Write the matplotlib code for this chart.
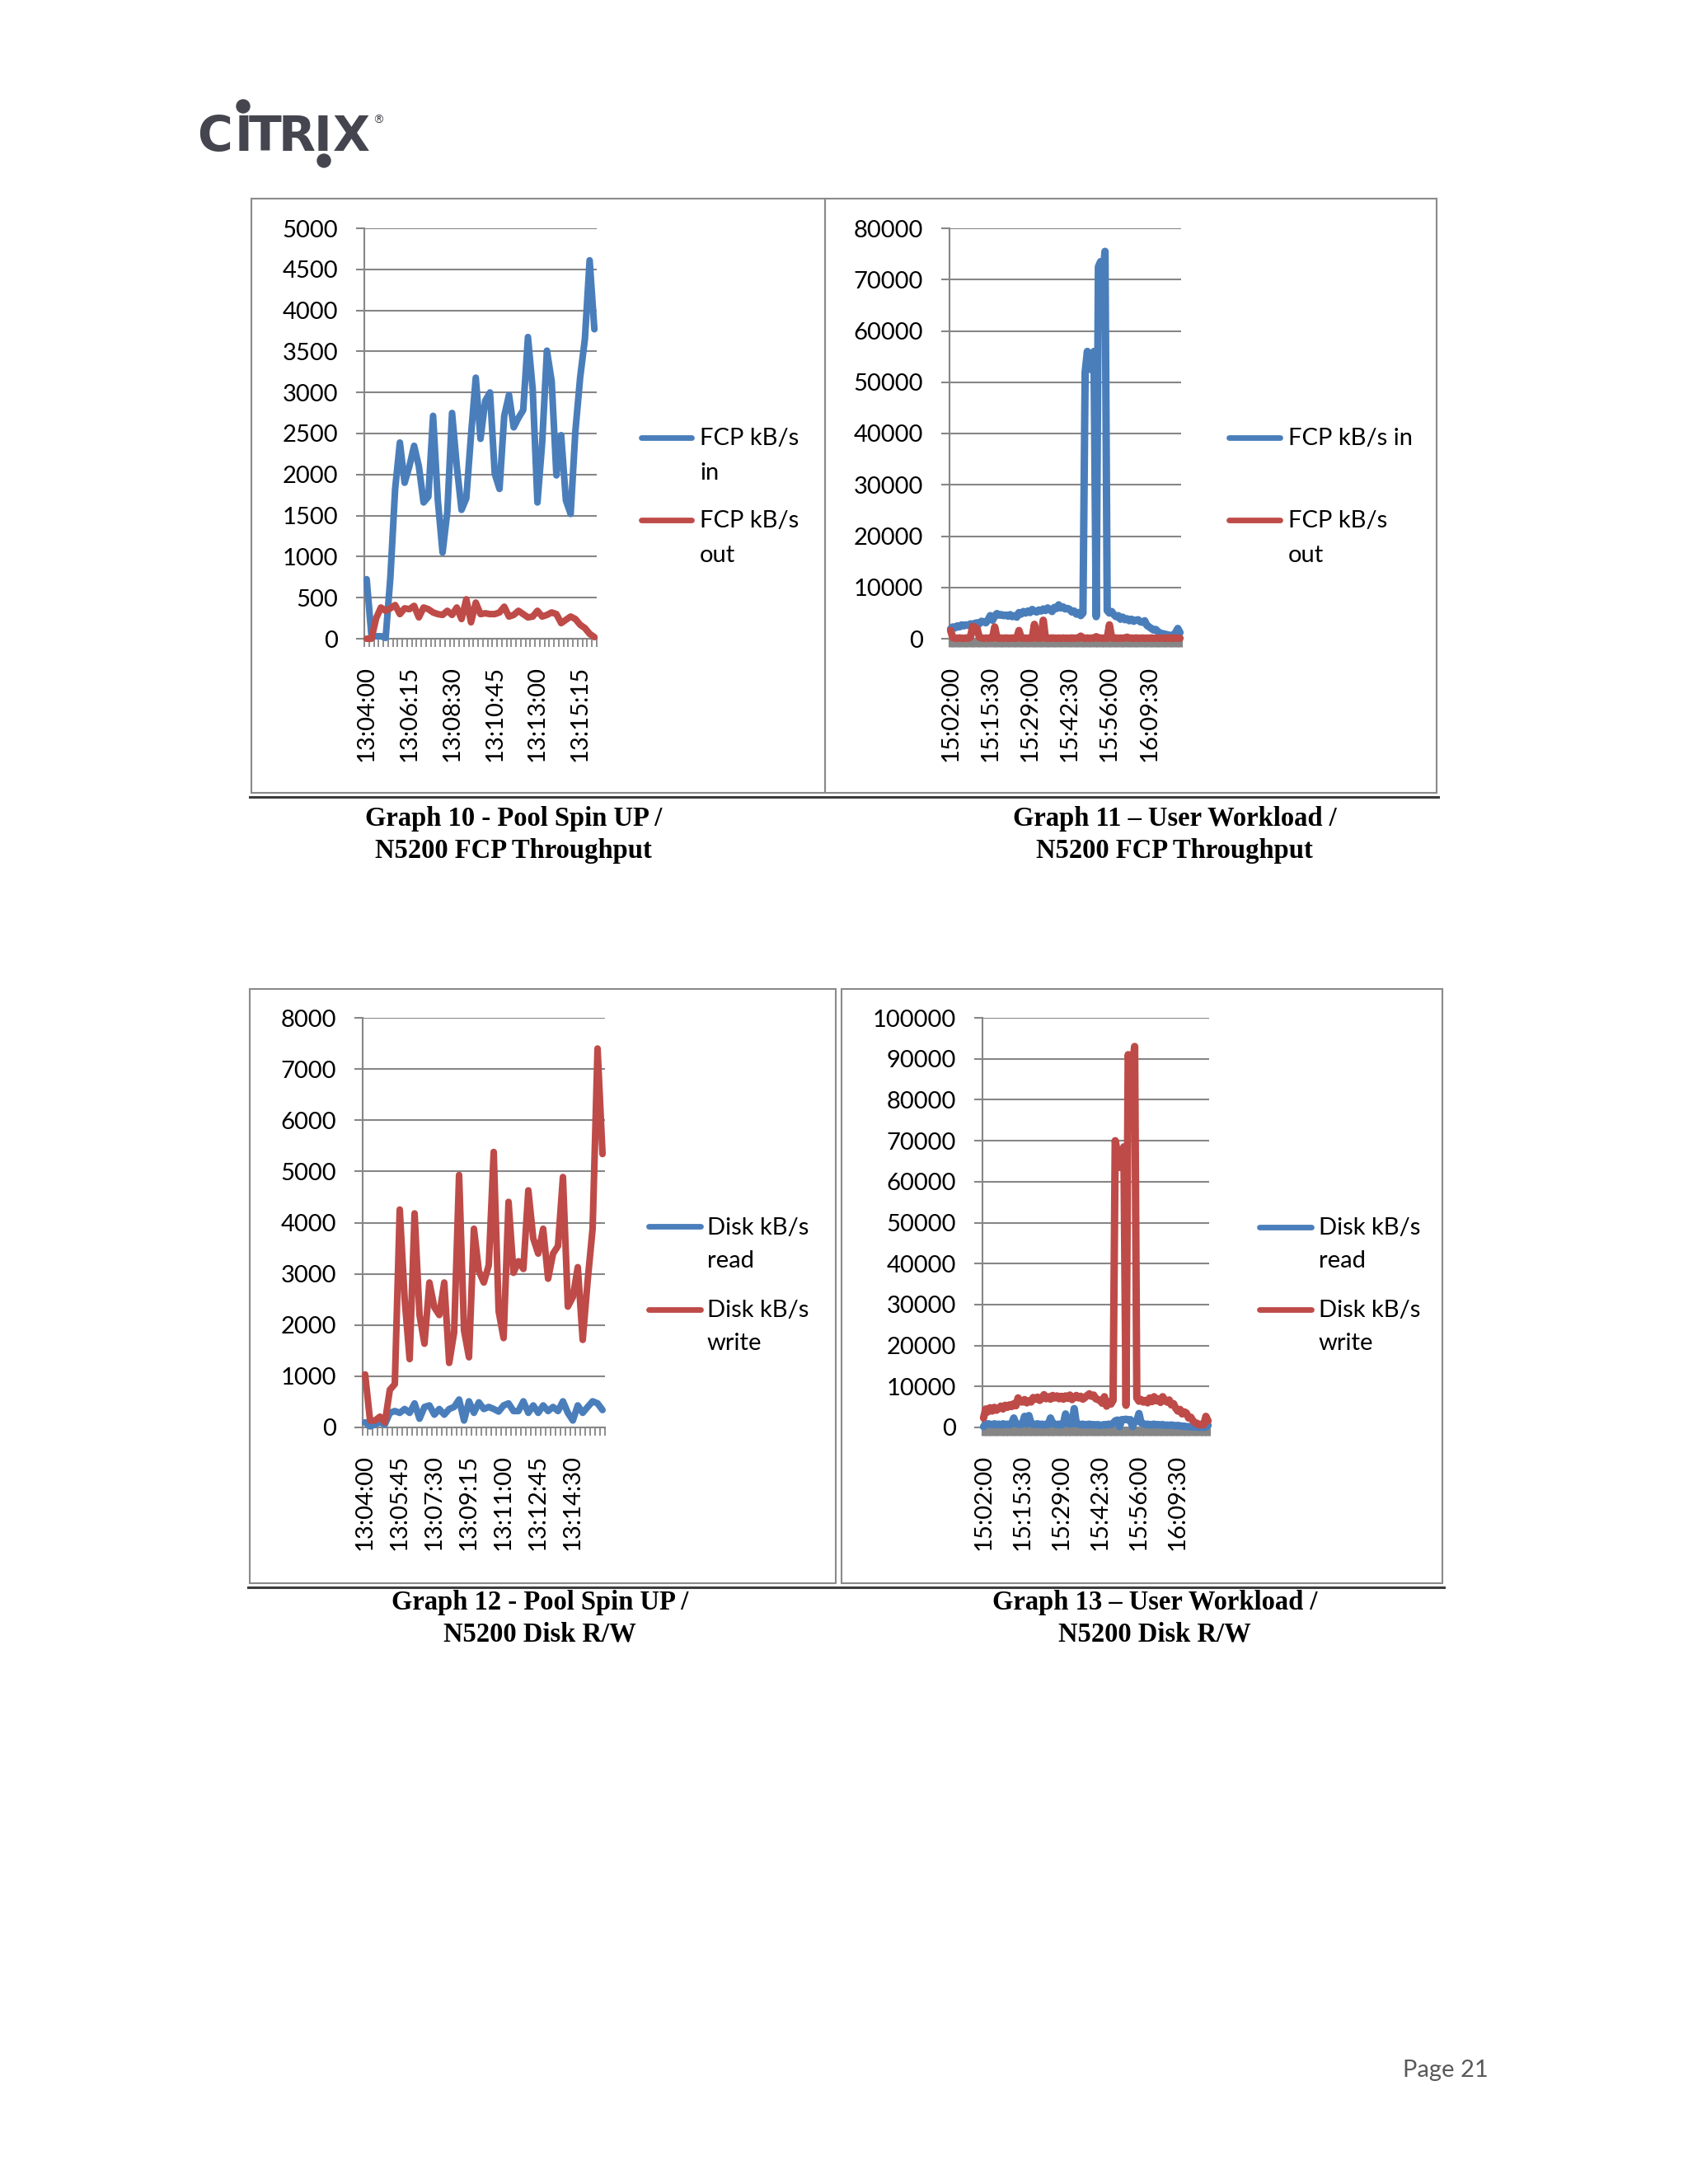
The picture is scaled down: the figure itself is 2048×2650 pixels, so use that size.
import matplotlib
matplotlib.use('Agg')
import matplotlib.pyplot as plt
from matplotlib.lines import Line2D
from matplotlib.patches import Rectangle, Ellipse
import numpy as np

plt.rcParams['font.family'] = ['Lato', 'DejaVu Sans']

W, H = 2048, 2650
BLUE = '#4a7ebb'
RED = '#be4b48'
GRID = '#868686'

######################## data ########################
# Graph 10 - Pool Spin UP / FCP throughput
g10_labels = ['13:04:00', '13:06:15', '13:08:30', '13:10:45', '13:13:00', '13:15:15']
g10_fcp_in = [725, 40, 30, 30, 10, 750, 1825, 2390, 1900, 2100,
              2350, 2100, 1660, 1730, 2715, 1685, 1050, 1545, 2750, 2100,
              1570, 1710, 2480, 3180, 2435, 2900, 3000, 2010, 1825, 2715,
              2970, 2575, 2690, 2785, 3675, 3040, 1660, 2390, 3510, 3135,
              1990, 2480, 1685, 1520, 2530, 3180, 3650, 4610, 3770]
g10_fcp_out = [0, 0, 250, 380, 340, 370, 410, 300, 370, 360,
               400, 260, 380, 360, 320, 300, 290, 340, 290, 380,
               240, 480, 200, 440, 300, 310, 300, 300, 320, 390,
               270, 290, 340, 300, 260, 270, 340, 270, 290, 320,
               300, 190, 230, 270, 240, 170, 130, 60, 20]

# Graph 11 - User Workload / FCP throughput
g11_labels = ['15:02:00', '15:15:30', '15:29:00', '15:42:30', '15:56:00', '16:09:30']
g11_fcp_in = [1900, 2300, 2100, 2500, 2300, 2700, 2500, 2700, 2600, 2900,
              2800, 3000, 3100, 2900, 3400, 3300, 3100, 3700, 4500, 3600,
              4400, 4900, 4600, 4700, 4500, 4600, 4400, 4700, 4300, 4500,
              4200, 5100, 4800, 5300, 5000, 5400, 5100, 5700, 5400, 5200,
              5600, 5400, 5800, 5500, 6000, 5700, 5300, 6100, 5900, 6600,
              6000, 6200, 5800, 5900, 5700, 5200, 5400, 4800, 5100, 4500,
              5000, 52000, 56000, 52500, 55000, 56000, 4300, 72500, 73500, 70500,
              75500, 5500, 5000, 5300, 4700, 4300, 4500, 3800, 4200, 3700,
              3900, 3500, 3800, 3400, 3600, 3700, 3300, 3200, 3500, 2600,
              2300, 2000, 1700, 1800, 1400, 1100, 1000, 900, 800, 700,
              600, 700, 1200, 2000, 1200]
g11_fcp_out = [1600, 200, 120, 90, 150, 110, 80, 140, 100, 300,
               2400, 2200, 2000, 300, 150, 90, 130, 100, 160, 120,
               2300, 150, 100, 130, 90, 150, 110, 100, 140, 90,
               120, 1600, 150, 100, 130, 90, 140, 110, 2800, 150,
               100, 140, 3600, 100, 120, 90, 150, 110, 100, 130,
               90, 140, 100, 120, 90, 150, 100, 130, 110, 500,
               150, 100, 140, 90, 130, 100, 400, 110, 150, 90,
               130, 100, 2700, 150, 100, 140, 90, 130, 110, 150,
               300, 100, 130, 90, 150, 110, 100, 140, 90, 120,
               100, 150, 90, 130, 110, 100, 140, 90, 120, 100,
               150, 90, 130, 110, 100]

# Graph 12 - Pool Spin UP / disk R/W
g12_labels = ['13:04:00', '13:05:45', '13:07:30', '13:09:15', '13:11:00', '13:12:45', '13:14:30']
g12_read = [100, 20, 60, 100, 60, 285, 320, 285, 360, 285,
            470, 170, 400, 430, 250, 360, 250, 360, 400, 545,
            135, 510, 285, 490, 360, 400, 360, 310, 430, 470,
            320, 320, 510, 285, 430, 285, 430, 320, 400, 320,
            510, 285, 135, 430, 285, 400, 510, 470, 340]
g12_write = [1035, 135, 135, 210, 100, 735, 845, 4255, 2495, 1335,
             4180, 2195, 1635, 2830, 2345, 2195, 2830, 1260, 1860, 4930,
             1895, 1370, 3880, 3055, 2830, 3170, 5380, 2270, 1745, 4405,
             3020, 3245, 3095, 4630, 3690, 3395, 3880, 2905, 3395, 3545,
             4890, 2360, 2545, 3130, 1710, 2870, 3880, 7400, 5340]

# Graph 13 - User Workload / disk R/W
g13_labels = ['15:02:00', '15:15:30', '15:29:00', '15:42:30', '15:56:00', '16:09:30']
g13_read = [200, 700, 900, 800, 600, 900, 700, 800, 600, 900,
            700, 800, 700, 900, 2300, 900, 800, 700, 900, 2700,
            800, 2900, 1000, 800, 700, 900, 700, 800, 600, 800,
            700, 2300, 1000, 800, 700, 800, 600, 900, 3300, 1000,
            800, 900, 4600, 900, 800, 700, 800, 600, 700, 800,
            600, 700, 600, 700, 500, 600, 700, 600, 800, 700,
            1000, 1600, 1800, 200, 1900, 1900, 2000, 1800, 1900, 200,
            1500, 1600, 3400, 1100, 900, 700, 800, 600, 700, 800,
            600, 700, 600, 700, 500, 600, 500, 600, 500, 400,
            500, 400, 300, 300, 200, 200, 100, 200, 100, 100,
            0, 100, 0, 100, 500]
g13_write = [2300, 4500, 3800, 4800, 4000, 4900, 4200, 4600, 5200, 4500,
             5400, 4900, 5500, 5100, 5800, 5300, 7200, 6300, 6200, 6800,
             6000, 6500, 6200, 7300, 6900, 7400, 6600, 7100, 8000, 7000,
             7500, 6900, 7800, 7200, 7700, 7000, 7600, 6900, 7700, 7100,
             7900, 6800, 7400, 7800, 7200, 7600, 6900, 7300, 7800, 8200,
             7600, 7900, 7000, 6800, 6600, 5900, 7500, 5200, 6300, 5700,
             6600, 70000, 67000, 63500, 65500, 68500, 5400, 91000, 87500, 88500,
             93000, 7200, 6400, 6800, 6200, 6600, 6000, 7200, 6300, 7500,
             6500, 7000, 6100, 7500, 6600, 6200, 6700, 5500, 5800, 4700,
             4000, 4400, 3300, 3800, 3500, 2300, 2500, 1600, 1100, 1000,
             600, 800, 700, 2700, 1600]

##########################################################################
fig = plt.figure(figsize=(W / 100, H / 100), dpi=100)
fig.patch.set_facecolor('white')


def fx(x):
    return x / W


def fy(y):
    return 1 - y / H


def chart(rect, ymax, ystep, series, labels, every, tick_w, lw):
    x0, y0, x1, y1 = rect
    ax = fig.add_axes([fx(x0), fy(y1), (x1 - x0) / W, (y1 - y0) / H])
    n = len(series[0][0])
    xs = np.arange(n)
    for vals, col in series:
        ax.plot(xs, vals, color=col, lw=lw, solid_joinstyle='round',
                solid_capstyle='round', clip_on=False, zorder=3)
    ax.set_xlim(-0.5, n - 0.5)
    ax.set_ylim(0, ymax)
    yt = np.arange(0, ymax + 1, ystep)
    ax.set_yticks(yt, [str(int(v)) for v in yt])
    ax.yaxis.grid(True, color=GRID, lw=1.5)
    ax.set_axisbelow(True)
    for s in ('top', 'right'):
        ax.spines[s].set_visible(False)
    for s in ('left', 'bottom'):
        ax.spines[s].set_color(GRID)
        ax.spines[s].set_linewidth(1.5)
    ax.set_xticks(np.arange(len(labels)) * every, labels, rotation=90)
    ax.set_xticks(np.arange(n + 1) - 0.5, minor=True)
    ax.tick_params(axis='x', which='major', length=0, pad=23.5, labelsize=21)
    ax.tick_params(axis='x', which='minor', length=7, width=tick_w, color=GRID)
    ax.tick_params(axis='y', length=7, width=1.5, color=GRID, pad=16, labelsize=21)
    ax.patch.set_alpha(0)
    return ax


def legend(x_line, x_text, entries):
    # entries: (colour, line y, [(text, baseline), ...])
    for col, ly, lines in entries:
        fig.add_artist(Line2D([fx(x_line[0] + 3), fx(x_line[1] - 3)], [fy(ly), fy(ly)],
                              color=col, lw=4.9, solid_capstyle='round'))
        for txt, yb in lines:
            fig.text(fx(x_text), fy(yb), txt, fontsize=21, va='baseline', ha='left')


def box(x0, y0, x1, y1):
    fig.add_artist(Rectangle((fx(x0), fy(y1)), (x1 - x0) / W, (y1 - y0) / H,
                             fill=False, ec='#8a8a8a', lw=1.5, transform=fig.transFigure))


def caption(xc, yb, lines):
    for i, t in enumerate(lines):
        fig.text(fx(xc), fy(yb + i * 39), t, ha='center', va='baseline', fontsize=23.5,
                 fontweight='bold', family=['Liberation Serif', 'DejaVu Serif'])


# frames
box(305, 241, 1001, 962)
box(1001, 241, 1743, 962)
fig.add_artist(Line2D([fx(303), fx(1745)], [fy(967), fy(967)], color='#3c3c3c', lw=2.2))
box(303, 1200, 1014, 1921)
box(1021, 1200, 1750, 1921)
fig.add_artist(Line2D([fx(301), fx(1752)], [fy(1926), fy(1926)], color='#3c3c3c', lw=2.2))

# charts
chart((442, 277, 724, 775), 5000, 500,
      [(g10_fcp_in, BLUE), (g10_fcp_out, RED)], g10_labels, 9, 1.3, 5.8)
legend((775, 842), 849, [(BLUE, 531, [('FCP kB/s', 540), ('in', 582)]),
                         (RED, 631, [('FCP kB/s', 640), ('out', 682)])])

chart((1152, 277, 1433, 775), 80000, 10000,
      [(g11_fcp_in, BLUE), (g11_fcp_out, RED)], g11_labels, 18, 2.3, 6.5)
legend((1488, 1556), 1563, [(BLUE, 531, [('FCP kB/s in', 540)]),
                            (RED, 631, [('FCP kB/s', 640), ('out', 682)])])

chart((440, 1235, 734, 1732), 8000, 1000,
      [(g12_read, BLUE), (g12_write, RED)], g12_labels, 7, 1.3, 5.8)
legend((784, 853), 858, [(BLUE, 1488, [('Disk kB/s', 1498), ('read', 1538)]),
                         (RED, 1589, [('Disk kB/s', 1598), ('write', 1638)])])

chart((1192, 1235, 1467, 1732), 100000, 10000,
      [(g13_read, BLUE), (g13_write, RED)], g13_labels, 18, 2.3, 6.5)
legend((1525, 1594), 1600, [(BLUE, 1489, [('Disk kB/s', 1498), ('read', 1538)]),
                            (RED, 1589, [('Disk kB/s', 1598), ('write', 1638)])])

# captions
caption(623, 1002, ['Graph 10 - Pool Spin UP /', 'N5200 FCP Throughput'])
caption(1425, 1002, ['Graph 11 \u2013 User Workload /', 'N5200 FCP Throughput'])
caption(655, 1953, ['Graph 12 - Pool Spin UP /', 'N5200 Disk R/W'])
caption(1401, 1953, ['Graph 13 \u2013 User Workload /', 'N5200 Disk R/W'])

# logo
LOGO = '#45454f'
for ch, xc in [('C', 261), ('I', 295), ('T', 322), ('R', 360), ('I', 392), ('X', 426)]:
    fig.text(fx(xc), fy(183), ch, ha='center', va='baseline', fontsize=42,
             fontweight='bold', color=LOGO, family='DejaVu Sans')
for xc, yc in [(295, 129), (393, 195)]:
    fig.add_artist(Ellipse((fx(xc), fy(yc)), 16 / W, 16 / H, color=LOGO,
                           transform=fig.transFigure))
fig.text(fx(452), fy(150), '\u00ae', fontsize=10, color=LOGO, family='DejaVu Sans')

# page number
fig.text(fx(1702), fy(2520), 'Page 21', fontsize=21, color='#595959', va='baseline')

fig.savefig('out.png', dpi=100, facecolor='white')
